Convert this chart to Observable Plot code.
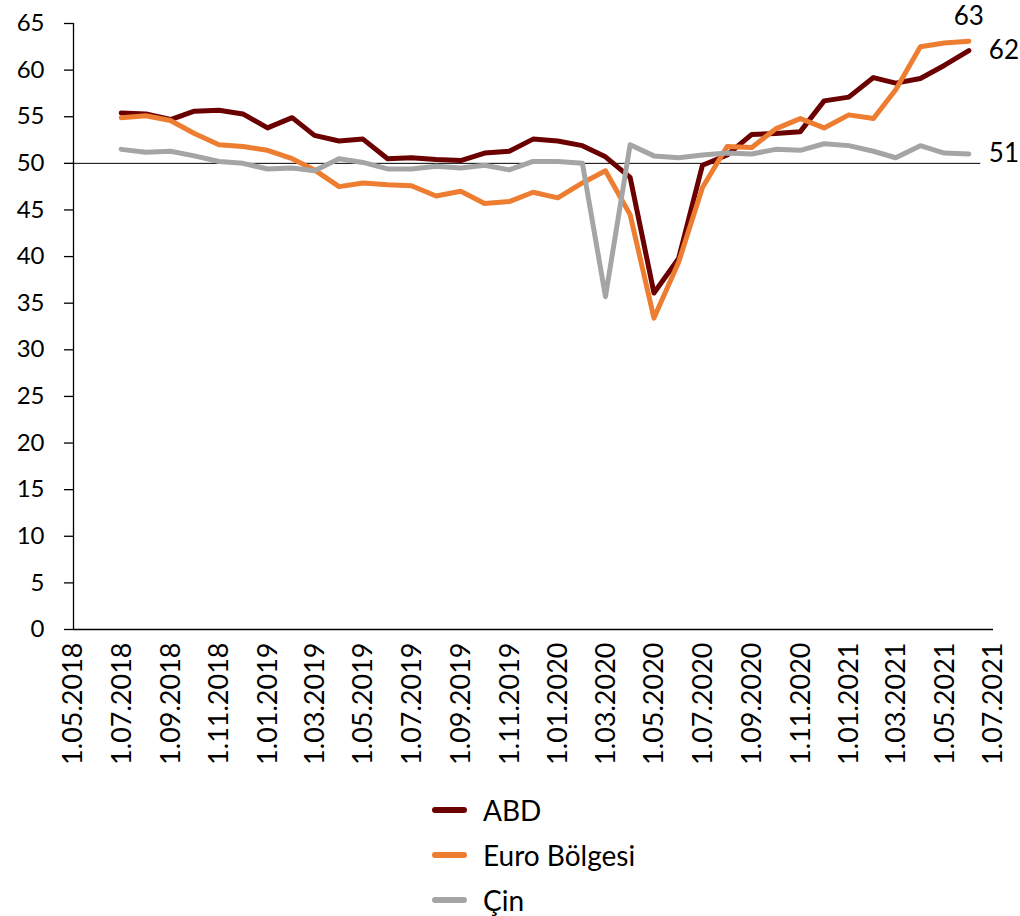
<!DOCTYPE html>
<html><head><meta charset="utf-8">
<script src="https://cdn.jsdelivr.net/npm/d3@7"></script>
<script src="https://cdn.jsdelivr.net/npm/@observablehq/plot@0.6"></script>
<style>
body{margin:0;background:#fff;font-family:Lato,sans-serif;}
#wrap{position:relative;width:1020px;height:916px;overflow:hidden;}
#chart svg{display:block;}
.legend{position:absolute;left:432px;top:787px;}
.row{height:45px;display:flex;align-items:center;font-size:28px;color:#000;}
.sw{width:35px;height:6px;border-radius:3px;margin-right:16px;}
</style></head><body>
<div id="wrap"><div id="chart"></div><div class="legend" id="legend"></div></div>
<script>
const dates = ["2018-06-30","2018-07-31","2018-08-31","2018-09-30","2018-10-31","2018-11-30","2018-12-31",
"2019-01-31","2019-02-28","2019-03-31","2019-04-30","2019-05-31","2019-06-30","2019-07-31","2019-08-31","2019-09-30","2019-10-31","2019-11-30","2019-12-31",
"2020-01-31","2020-02-29","2020-03-31","2020-04-30","2020-05-31","2020-06-30","2020-07-31","2020-08-31","2020-09-30","2020-10-31","2020-11-30","2020-12-31",
"2021-01-31","2021-02-28","2021-03-31","2021-04-30","2021-05-31"];
const abd  = [55.4,55.3,54.7,55.6,55.7,55.3,53.8,54.9,53.0,52.4,52.6,50.5,50.6,50.4,50.3,51.1,51.3,52.6,52.4,51.9,50.7,48.5,36.1,39.8,49.8,50.9,53.1,53.2,53.4,56.7,57.1,59.2,58.6,59.1,60.5,62.1];
const euro = [54.9,55.1,54.6,53.2,52.0,51.8,51.4,50.5,49.3,47.5,47.9,47.7,47.6,46.5,47.0,45.7,45.9,46.9,46.3,47.9,49.2,44.5,33.4,39.4,47.4,51.8,51.7,53.7,54.8,53.8,55.2,54.8,57.9,62.5,62.9,63.1];
const cin  = [51.5,51.2,51.3,50.8,50.2,50.0,49.4,49.5,49.2,50.5,50.1,49.4,49.4,49.7,49.5,49.8,49.3,50.2,50.2,50.0,35.7,52.0,50.8,50.6,50.9,51.1,51.0,51.5,51.4,52.1,51.9,51.3,50.6,51.9,51.1,51.0];
const seriesNames = ["ABD","Euro Bölgesi","Çin"];
const seriesColors = ["#6B0000","#ED7D31","#A5A5A5"];
const yTicks = [0,5,10,15,20,25,30,35,40,45,50,55,60,65];
const xTickLabels = ["1.05.2018","1.07.2018","1.09.2018","1.11.2018","1.01.2019","1.03.2019","1.05.2019","1.07.2019","1.09.2019","1.11.2019","1.01.2020","1.03.2020","1.05.2020","1.07.2020","1.09.2020","1.11.2020","1.01.2021","1.03.2021","1.05.2021","1.07.2021"];
const refValue = 50;
const refEnd = "2021-06-15";

const parseTick = d3.utcParse("%d.%m.%Y");
const tickDates = xTickLabels.map(parseTick);
const fmtTick = d3.utcFormat("%-d.%m.%Y");
const allSeries = [abd, euro, cin];
const rows = [];
allSeries.forEach((vals, s) => vals.forEach((v, i) => rows.push({date: new Date(dates[i]), value: v, series: seriesNames[s]})));
const last = seriesNames.map((n, s) => ({date: new Date(dates[dates.length-1]), value: allSeries[s][allSeries[s].length-1], series: n}));

const plot = Plot.plot({
  width: 1020, height: 785,
  marginLeft: 73, marginRight: 27, marginTop: 23, marginBottom: 156,
  style: {fontFamily: "Lato, sans-serif", fontSize: "22px", color: "#000", background: "#fff", overflow: "visible"},
  x: {type: "utc", domain: [tickDates[0], tickDates[tickDates.length-1]]},
  y: {domain: [0, 65]},
  color: {domain: seriesNames, range: seriesColors},
  marks: [
    Plot.ruleY([refValue], {x1: tickDates[0], x2: new Date(refEnd), stroke: "#000", strokeWidth: 1}),
    Plot.line(rows, {x: "date", y: "value", z: "series", stroke: "series", strokeWidth: 5, strokeLinejoin: "round", strokeLinecap: "round"}),
    Plot.ruleX([tickDates[0]], {y1: 0, y2: 65, stroke: "#000", strokeWidth: 1.3}),
    Plot.ruleY([0], {stroke: "#000", strokeWidth: 1.3}),
    Plot.axisY({ticks: yTicks, tickSize: 9, tickPadding: 20, fontSize: 24, stroke: "#000", strokeWidth: 1.3, label: null}),
    Plot.axisX({ticks: tickDates, tickFormat: fmtTick, tickSize: 0, tickPadding: 13, tickRotate: -90, fontSize: 27, label: null}),
    Plot.text(last.filter(d => d.series !== "Euro Bölgesi"), {x: "date", y: "value", text: d => String(Math.round(d.value)), dx: 20, textAnchor: "start", fontSize: 26, fill: "#000"}),
    Plot.text(last.filter(d => d.series === "Euro Bölgesi"), {x: "date", y: "value", text: d => String(Math.round(d.value)), dy: -25, textAnchor: "middle", fontSize: 26, fill: "#000"})
  ]
});
document.getElementById("chart").appendChild(plot);

const leg = document.getElementById("legend");
seriesNames.forEach((n, s) => {
  const r = document.createElement("div"); r.className = "row";
  const sw = document.createElement("div"); sw.className = "sw"; sw.style.background = seriesColors[s];
  const t = document.createElement("span"); t.textContent = n;
  r.appendChild(sw); r.appendChild(t); leg.appendChild(r);
});
</script>
</body></html>
